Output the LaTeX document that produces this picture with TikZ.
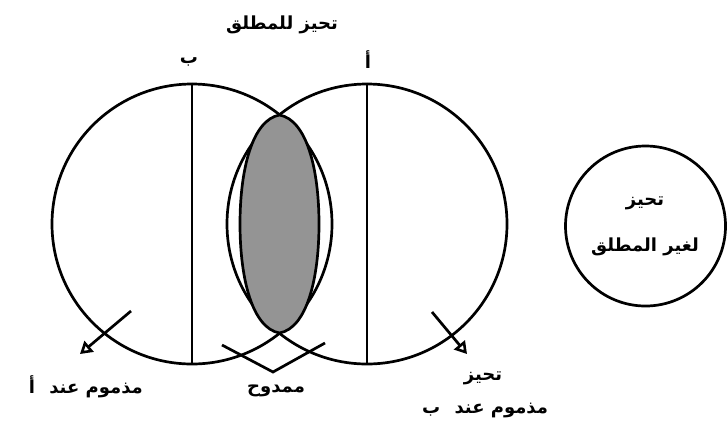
\documentclass[tikz,border=0pt]{standalone}
\usepackage{fontspec}
\newfontfamily\arabicfont[Script=Arabic]{DejaVu Sans}
\TeXXeTstate=1
\usetikzlibrary{arrows.meta,shapes.geometric}
\tikzset{
  ln/.style={line width=2.7pt, draw=black},
  bigc/.style={ln, circle, minimum size=280pt, inner sep=0pt},
  smallc/.style={ln, circle, minimum size=160pt, inner sep=0pt},
  lab/.style={font=\arabicfont\bfseries\fontsize{18}{20}\selectfont, inner sep=0pt},
  arr/.style={ln, -{Triangle[open, length=12pt, width=14pt, line width=2.6pt]}},
}
\begin{document}
\begin{tikzpicture}[x=1pt,y=-1pt]
\useasboundingbox (0,0) rectangle (727,432);
\node[bigc] (L) at (192,224) {};
\node[bigc] (R) at (367,224) {};
\coordinate (ET) at (279.5,115);
\coordinate (EB) at (279.5,333);
\draw[ln, fill=black!42] (ET) .. controls (252,120) and (240,170) .. (240,224)
   .. controls (240,278) and (252,328) .. (EB)
   .. controls (307,328) and (319,278) .. (319,224)
   .. controls (319,170) and (307,120) .. (ET) -- cycle;
\draw[ln] (L.north) -- (L.south);
\draw[ln] (R.north) -- (R.south);
\node[smallc] (S) at (645.5,226) {};
% labels
\node[lab] (top) at (282,25) {\beginR تحيز للمطلق\endR};
\node[lab] (lb) at (189,62) {\beginR ب\endR};
\node[lab] (la) at (368,60) {\beginR أ\endR};
\node[lab] (s1) at (645,203) {\beginR تحيز\endR};
\node[lab] (s2) at (645,247) {\beginR لغير المطلق\endR};
\node[lab, anchor=east] (ml) at (143,387) {\beginR مذموم عند\hspace{0.8em}أ\endR};
\node[lab] (mid) at (276,391) {\beginR ممدوح\endR};
\node[lab] (r1) at (483,378) {\beginR تحيز\endR};
\node[lab] (r2) at (485,410) {\beginR مذموم عند\hspace{0.8em}ب\endR};
% arrows
\coordinate (las) at (131,311);
\coordinate (lat) at (80,354);
\draw[arr] (las) -- (lat);
\coordinate (ras) at (432,312);
\coordinate (rat) at (467,354);
\draw[arr] (ras) -- (rat);
% V pointer
\coordinate (va) at (222,345);
\coordinate (vb) at (273,372);
\coordinate (vc) at (325,343);
\draw[ln, line join=miter] (va) -- (vb) -- (vc);
\end{tikzpicture}
\end{document}
